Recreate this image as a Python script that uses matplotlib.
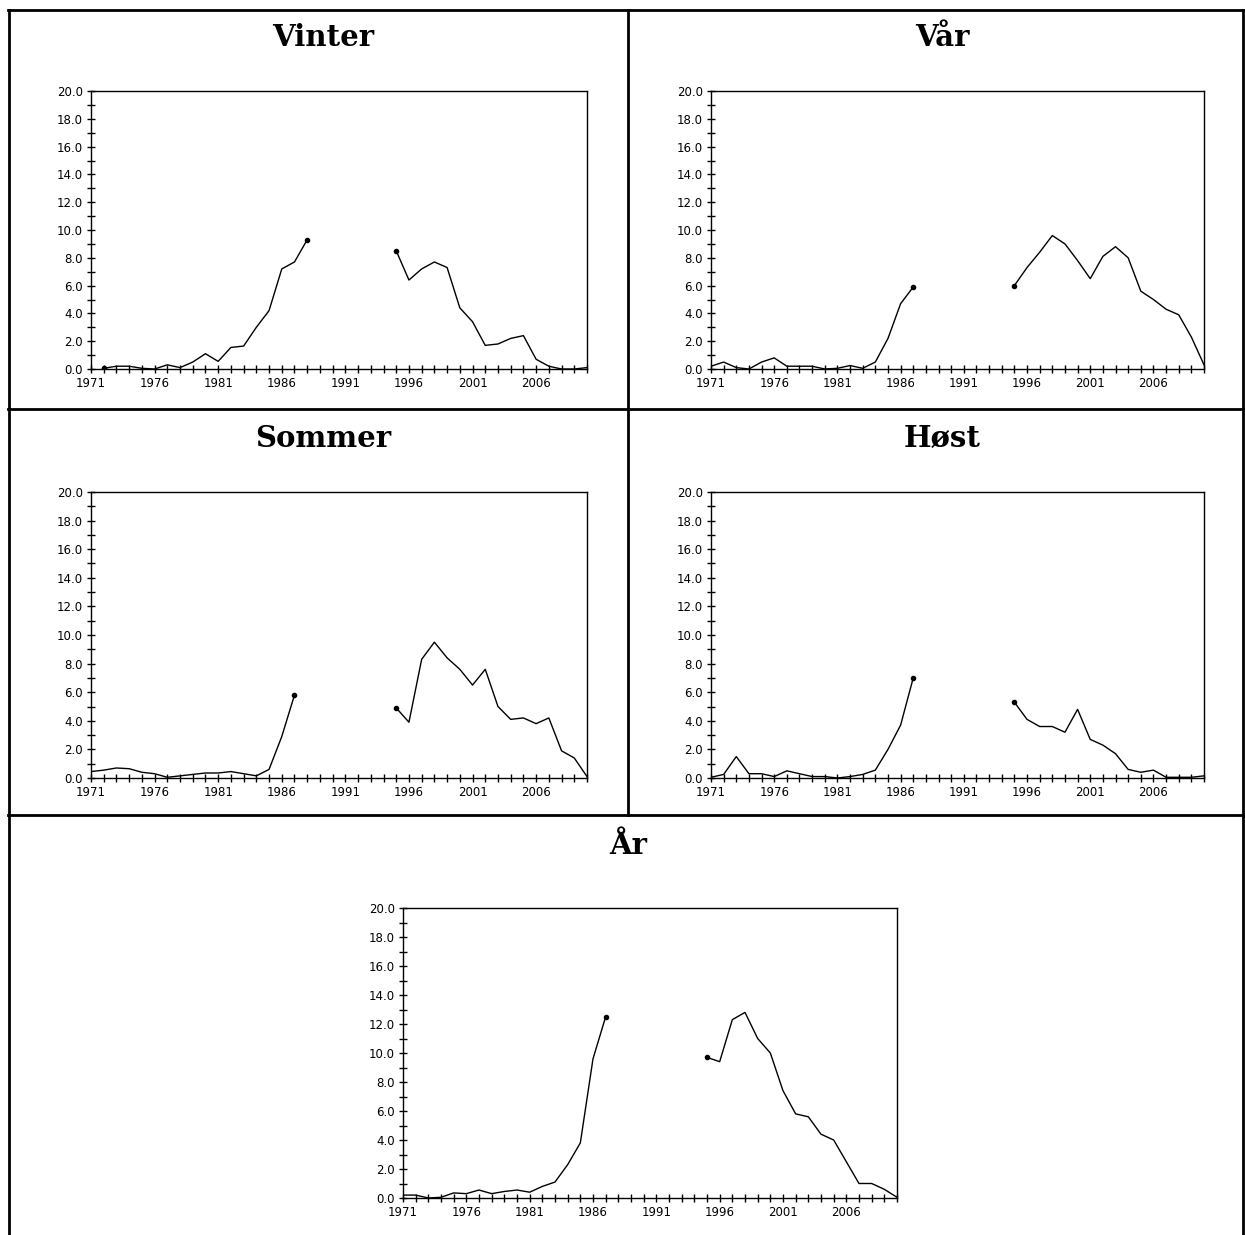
import numpy as np
import matplotlib
matplotlib.use("Agg")
import matplotlib.pyplot as plt
from matplotlib.lines import Line2D
from matplotlib.ticker import MultipleLocator, FixedLocator, FormatStrFormatter

nan = np.nan
years = list(range(1971, 2011))

vinter = [nan, 0.05, 0.2, 0.2, 0.05, 0.0, 0.3, 0.1, 0.5, 1.1, 0.55, 1.55, 1.65, 3.0, 4.2, 7.2, 7.7, 9.3,
          nan, nan, nan, nan, nan, nan,
          8.5, 6.4, 7.2, 7.7, 7.3, 4.4, 3.4, 1.7, 1.8, 2.2, 2.4, 0.7, 0.2, 0.0, 0.0, 0.1]
vaar = [0.2, 0.5, 0.1, 0.0, 0.5, 0.8, 0.2, 0.2, 0.2, 0.0, 0.05, 0.25, 0.05, 0.5, 2.2, 4.7, 5.9,
        nan, nan, nan, nan, nan, nan, nan,
        6.0, 7.3, 8.4, 9.6, 9.0, 7.8, 6.5, 8.1, 8.8, 8.0, 5.6, 5.0, 4.3, 3.9, 2.3, 0.3]
sommer = [0.45, 0.55, 0.7, 0.65, 0.4, 0.3, 0.05, 0.15, 0.25, 0.35, 0.35, 0.45, 0.3, 0.15, 0.6, 2.9, 5.8,
          nan, nan, nan, nan, nan, nan, nan,
          4.9, 3.9, 8.3, 9.5, 8.4, 7.6, 6.5, 7.6, 5.0, 4.1, 4.2, 3.8, 4.2, 1.9, 1.4, 0.1]
hoest = [0.05, 0.25, 1.5, 0.3, 0.3, 0.1, 0.5, 0.3, 0.1, 0.1, 0.0, 0.1, 0.25, 0.55, 2.0, 3.7, 7.0,
         nan, nan, nan, nan, nan, nan, nan,
         5.3, 4.1, 3.6, 3.6, 3.2, 4.8, 2.7, 2.3, 1.7, 0.6, 0.4, 0.55, 0.05, 0.05, 0.05, 0.15]
aar = [0.2, 0.2, 0.0, 0.05, 0.35, 0.3, 0.55, 0.3, 0.45, 0.55, 0.4, 0.8, 1.1, 2.3, 3.8, 9.6, 12.5,
       nan, nan, nan, nan, nan, nan, nan,
       9.7, 9.4, 12.3, 12.8, 11.0, 10.0, 7.4, 5.8, 5.6, 4.4, 4.0, 2.5, 1.0, 1.0, 0.6, 0.05]

titles = ["Vinter", "Vår", "Sommer", "Høst", "År"]
series = [vinter, vaar, sommer, hoest, aar]
xtick_years = [1971, 1976, 1981, 1986, 1991, 1996, 2001, 2006]

W, H = 1245, 1235
fig = plt.figure(figsize=(W / 100, H / 100), dpi=100)

# axes boxes in pixels: left, right, top, bottom
boxes = [(91, 587, 91, 369), (711, 1204, 91, 369),
         (91, 587, 492, 778), (711, 1204, 492, 778),
         (403, 897, 908, 1198)]
title_pos = [(323, 38), (942, 38), (323, 438), (942, 438), (628, 845)]

def fx(x):
    return x / W

def fy(y):
    return 1 - y / H

for (l, r, t, b), name, vals, (tx, ty) in zip(boxes, titles, series, title_pos):
    ax = fig.add_axes([fx(l), fy(b), (r - l) / W, (b - t) / H])
    y = np.array(vals, dtype=float)
    x = np.array(years)
    ax.plot(x, y, color="black", lw=1.0)
    # markers at ends of segments adjacent to gaps
    mk = []
    for i in range(len(y)):
        if np.isnan(y[i]):
            continue
        prev_nan = i > 0 and np.isnan(y[i - 1])
        next_nan = i < len(y) - 1 and np.isnan(y[i + 1])
        if prev_nan or next_nan:
            mk.append(i)
    ax.plot(x[mk], y[mk], "o", color="black", ms=3.0, lw=0)
    ax.set_xlim(1971, 2010)
    ax.set_ylim(0, 20)
    ax.yaxis.set_major_locator(MultipleLocator(2))
    ax.yaxis.set_minor_locator(MultipleLocator(1))
    ax.yaxis.set_major_formatter(FormatStrFormatter("%.1f"))
    ax.xaxis.set_major_locator(FixedLocator(xtick_years))
    ax.xaxis.set_minor_locator(MultipleLocator(1))
    ax.tick_params(which="both", direction="inout", length=6, width=1.0, color="black",
                   labelsize=8.5, pad=3)
    ax.tick_params(axis="x", which="major", pad=3)
    for s in ax.spines.values():
        s.set_linewidth(1.0)
        s.set_color("black")
    for lab in ax.get_xticklabels() + ax.get_yticklabels():
        lab.set_fontfamily("DejaVu Sans")
    fig.text(fx(tx), fy(ty), name, ha="center", va="center", fontsize=21,
             fontweight="bold", family="DejaVu Serif")

# table border lines
lw = 2.0
def hline(y, x0, x1):
    fig.add_artist(Line2D([fx(x0), fx(x1)], [fy(y), fy(y)], color="black", lw=lw))

def vline(x, y0, y1):
    fig.add_artist(Line2D([fx(x), fx(x)], [fy(y0), fy(y1)], color="black", lw=lw))

hline(10, 8, 1245)
hline(409, 8, 1245)
hline(815, 8, 1245)
vline(9, 10, 1235)
vline(628, 10, 815)
vline(1243, 10, 1235)

fig.savefig("out.png", dpi=100, facecolor="white")
